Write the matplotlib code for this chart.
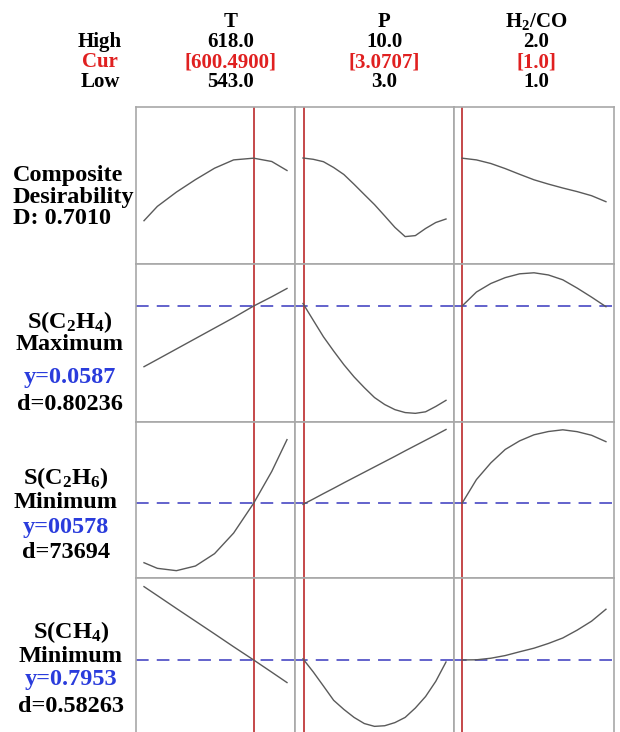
"""
Response optimizer plot (T, P, H2/CO)
"""
import matplotlib.pyplot as plt

plt.rcParams['font.family'] = 'Liberation Serif'
plt.rcParams['font.weight'] = 'bold'
plt.rcParams['mathtext.fontset'] = 'custom'
plt.rcParams['mathtext.rm'] = 'Liberation Serif:bold'
plt.rcParams['mathtext.bf'] = 'Liberation Serif:bold'
plt.rcParams['mathtext.it'] = 'Liberation Serif:bold'

# factor settings
factors = ['T', 'P', r'$\mathbf{H_2/CO}$']
high = ['618.0', '10.0', '2.0']
cur_txt = ['[600.4900]', '[3.0707]', '[1.0]']
low = ['543.0', '3.0', '1.0']
cur = [600.49, 3.0707, 1.0]
lims = [(543, 618), (3.0, 10.0), (1.0, 2.0)]

# x grid read for each factor
T = [543, 550, 560, 570, 580, 590, 600.49, 610, 618]
P = [3.0, 3.5, 4.0, 4.5, 5.0, 5.5, 6.0, 6.5, 7.0, 7.5, 8.0, 8.5, 9.0, 9.5, 10.0]
HC = [1.0, 1.1, 1.2, 1.3, 1.4, 1.5, 1.6, 1.7, 1.8, 1.9, 2.0]

# composite desirability
D_T = [0.2868, 0.3816, 0.4763, 0.5591, 0.6346, 0.6896, 0.7010, 0.6790, 0.6194]
D_P = [0.7020, 0.6936, 0.6777, 0.6392, 0.5929, 0.5280, 0.4604, 0.3935,
       0.3186, 0.2424, 0.1815, 0.1881, 0.2352, 0.2749, 0.2981]
D_H = [0.7010, 0.6896, 0.6657, 0.6320, 0.5942, 0.5578, 0.5293, 0.5034,
       0.4796, 0.4524, 0.4127]

# S(C2H4)
c2h4_T = [0.05394, 0.05451, 0.05533, 0.05615, 0.05697, 0.05779, 0.05870, 0.05943, 0.06008]
c2h4_P = [0.05890, 0.05759, 0.05629, 0.05517, 0.05410, 0.05314, 0.05230, 0.05152,
          0.05097, 0.05057, 0.05034, 0.05028, 0.05040, 0.05082, 0.05130]
c2h4_H = [0.05870, 0.05980, 0.06047, 0.06093, 0.06123, 0.06131, 0.06114, 0.06076,
          0.06011, 0.05940, 0.05865]

# S(C2H6)
c2h6_T = [0.05398, 0.05362, 0.05347, 0.05377, 0.05456, 0.05588, 0.05779, 0.05983, 0.06187]
c2h6_P = [0.05772, 0.05806, 0.05841, 0.05875, 0.05910, 0.05944, 0.05978, 0.06012,
          0.06046, 0.06080, 0.06115, 0.06149, 0.06183, 0.06217, 0.06252]
c2h6_H = [0.05779, 0.05931, 0.06038, 0.06124, 0.06179, 0.06218, 0.06239, 0.06250,
          0.06238, 0.06215, 0.06174]

# S(CH4)
ch4_T = [0.8420, 0.8363, 0.8281, 0.8200, 0.8119, 0.8037, 0.7953, 0.7875, 0.7809]
ch4_P = [0.7960, 0.7877, 0.7787, 0.7696, 0.7638, 0.7587, 0.7548, 0.7530,
         0.7534, 0.7554, 0.7587, 0.7647, 0.7720, 0.7817, 0.7940]
ch4_H = [0.7953, 0.7954, 0.7964, 0.7981, 0.8005, 0.8028, 0.8058, 0.8093,
         0.8143, 0.8200, 0.8276]

targets = [None, 0.0587, 0.0578, 0.7953]

xs = [T, P, HC]
ys = [[D_T, D_P, D_H],
      [c2h4_T, c2h4_P, c2h4_H],
      [c2h6_T, c2h6_P, c2h6_H],
      [ch4_T, ch4_P, ch4_H]]

# layout (pixels)
W, Hpx = 620, 732
fig = plt.figure(figsize=(6.2, 7.32), dpi=100)
col_px = [(136, 295), (295, 454), (454, 614)]
row_px = [(107, 264), (264, 422), (422, 578), (578, 735)]
ylims = [(0.0, 1.04), (0.0496, 0.0620), (0.0530, 0.0630), (0.7475, 0.8475)]

red = '#c0393b'
blue_dash = '#5656c8'
gray = '#a8a8a8'

for r in range(4):
    for c in range(3):
        x0, x1 = col_px[c]
        y0, y1 = row_px[r]
        ax = fig.add_axes([x0 / W, 1 - y1 / Hpx, (x1 - x0) / W, (y1 - y0) / Hpx])
        lo, hi = lims[c]
        m = (hi - lo) * 8.0 / 143.0
        ax.set_xlim(lo - m, hi + m)
        ax.set_ylim(*ylims[r])
        ax.plot(xs[c], ys[r][c], color='#5a5a5a', lw=1.0, zorder=3)
        ax.axvline(cur[c], color=red, lw=1.3, zorder=2)
        if targets[r] is not None:
            ax.axhline(targets[r], color=blue_dash, lw=1.3, dashes=(7, 4.5), zorder=1)
        ax.set_xticks([])
        ax.set_yticks([])
        for s in ax.spines.values():
            s.set_color(gray)
            s.set_linewidth(1.2)

def ftext(x, y, s, **kw):
    fig.text(x / W, 1 - y / Hpx, s, va='center', fontweight='bold', **kw)

# header
hs = 15
hx = [231, 384, 536]
for i in range(3):
    ftext(hx[i], 22, factors[i], ha='center', fontsize=hs)
    ftext(hx[i], 42, high[i], ha='center', fontsize=hs)
    ftext(hx[i], 62, cur_txt[i], ha='center', fontsize=hs, color='#e02020')
    ftext(hx[i], 82, low[i], ha='center', fontsize=hs)
ftext(100, 42, 'High', ha='center', fontsize=hs)
ftext(100, 62, 'Cur', ha='center', fontsize=hs, color='#e02020')
ftext(100, 82, 'Low', ha='center', fontsize=hs)

# row labels
fs = 17.5
ftext(13, 175, 'Composite', ha='left', fontsize=fs)
ftext(13, 198, 'Desirability', ha='left', fontsize=fs)
ftext(13, 219, 'D: 0.7010', ha='left', fontsize=fs)

lab_blue = '#2a3cdc'
rows_txt = [
    (r'$\mathbf{S(C_2H_4)}$', 'Maximum', 'y=0.0587', 'd=0.80236', [322, 345, 378, 405], 70),
    (r'$\mathbf{S(C_2H_6)}$', 'Minimum', 'y=00578', 'd=73694', [478, 502, 527, 553], 66),
    (r'$\mathbf{S(CH_4)}$', 'Minimum', 'y=0.7953', 'd=0.58263', [632, 656, 680, 707], 71),
]
for name, goal, yv, dv, yy, cx in rows_txt:
    ftext(cx, yy[0], name, ha='center', fontsize=fs)
    ftext(cx, yy[1], goal, ha='center', fontsize=fs)
    ftext(cx, yy[2], yv, ha='center', fontsize=fs, color=lab_blue)
    ftext(cx, yy[3], dv, ha='center', fontsize=fs)

plt.savefig('out.png', dpi=100)
